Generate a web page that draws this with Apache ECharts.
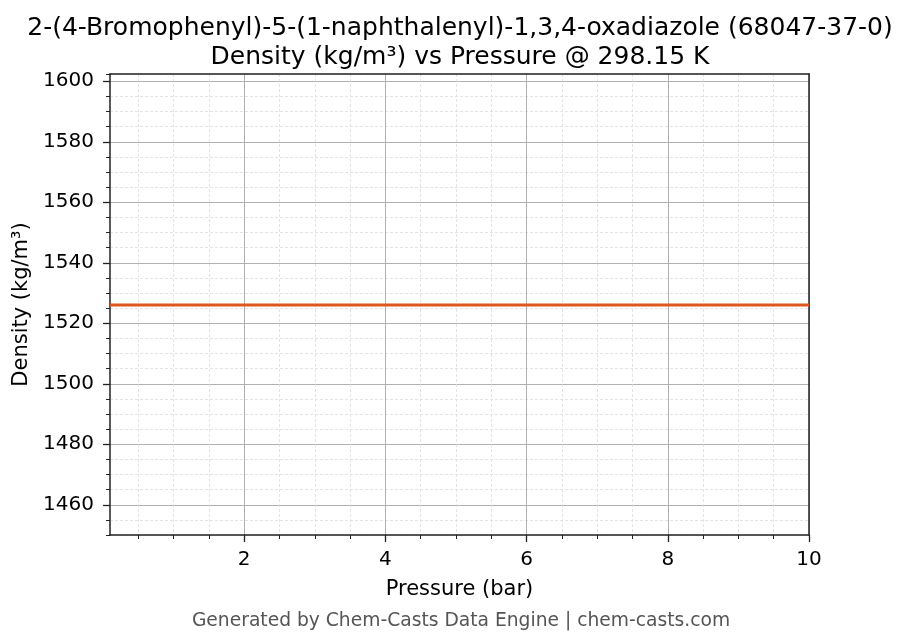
<!DOCTYPE html>
<html>
<head>
<meta charset="utf-8">
<script src="https://cdn.jsdelivr.net/npm/echarts@6/dist/echarts.min.js"></script>
<style>html,body{margin:0;padding:0;background:#fff}#c{width:908px;height:644px}</style>
</head>
<body>
<div id="c"></div>
<script>
// ---- data ----
const titleLine1 = '2-(4-Bromophenyl)-5-(1-naphthalenyl)-1,3,4-oxadiazole (68047-37-0)';
const titleLine2 = 'Density (kg/m³) vs Pressure @ 298.15 K';
const footerText = 'Generated by Chem-Casts Data Engine | chem-casts.com';
const xAxisName = 'Pressure (bar)';
const yAxisName = 'Density (kg/m³)';
const pressure = [0.1, 1, 2, 3, 4, 5, 6, 7, 8, 9, 10];
const density = [1526, 1526, 1526, 1526, 1526, 1526, 1526, 1526, 1526, 1526, 1526];
const xMajorTicks = [2, 4, 6, 8, 10];
const xMinorTicks = [0.5, 1, 1.5, 2.5, 3, 3.5, 4.5, 5, 5.5, 6.5, 7, 7.5, 8.5, 9, 9.5];
const yMajorTicks = [1460, 1480, 1500, 1520, 1540, 1560, 1580, 1600];
const xRange = [0.1, 10];
const yRange = [1450, 1602.4];

const FONT = 'DejaVu Sans';
const AXC = '#222';

const chart = echarts.init(document.getElementById('c'), null, {renderer: 'canvas'});

const xBase = {type: 'value', min: xRange[0], max: xRange[1], gridIndex: 0};
const yBase = {type: 'value', min: yRange[0], max: yRange[1], gridIndex: 0};
const plain = v => String(v);
const titleCenterX = 455;

const option = {
  backgroundColor: '#fff',
  animation: false,
  title: [
    {
      text: titleLine1 + '\n' + titleLine2,
      left: titleCenterX, top: 9, textAlign: 'center',
      textStyle: {fontFamily: FONT, fontSize: 25, fontWeight: 'normal', color: '#000', lineHeight: 29}
    },
    {
      text: footerText,
      left: titleCenterX + 1, top: 607, textAlign: 'center',
      textStyle: {fontFamily: FONT, fontSize: 18.7, fontWeight: 'normal', color: '#555'}
    }
  ],
  grid: {left: 110, right: 99, top: 74, bottom: 109, containLabel: false},
  xAxis: [
    Object.assign({}, xBase, {
      position: 'bottom',
      axisLine: {show: false},
      axisTick: {show: true, inside: false, length: 4, customValues: xMinorTicks, lineStyle: {color: AXC, width: 1}},
      axisLabel: {show: false, customValues: xMinorTicks},
      splitLine: {show: true, lineStyle: {color: '#dddddd', width: 0.8, type: [3, 2]}}
    }),
    Object.assign({}, xBase, {
      position: 'bottom',
      name: xAxisName, nameLocation: 'middle', nameGap: 44,
      nameTextStyle: {fontFamily: FONT, fontSize: 21, color: '#000'},
      axisLine: {show: true, onZero: false, lineStyle: {color: AXC, width: 1.5}},
      axisTick: {show: true, inside: false, length: 7, customValues: xMajorTicks, lineStyle: {color: AXC, width: 1.3}},
      axisLabel: {show: true, customValues: xMajorTicks, margin: 15, fontFamily: FONT, fontSize: 20, color: '#000', formatter: plain},
      splitLine: {show: true, lineStyle: {color: '#b0b0b0', width: 1}}
    }),
    Object.assign({}, xBase, {
      position: 'top',
      axisLine: {show: true, onZero: false, lineStyle: {color: AXC, width: 1.5}},
      axisTick: {show: false}, axisLabel: {show: false}, splitLine: {show: false}
    })
  ],
  yAxis: [
    Object.assign({}, yBase, {
      position: 'left', interval: 5,
      axisLine: {show: false},
      axisTick: {show: true, inside: false, length: 4, lineStyle: {color: AXC, width: 1}},
      axisLabel: {show: false},
      splitLine: {show: true, lineStyle: {color: '#dddddd', width: 0.8, type: [3, 2]}}
    }),
    Object.assign({}, yBase, {
      position: 'left',
      name: yAxisName, nameLocation: 'middle', nameGap: 77,
      nameTextStyle: {fontFamily: FONT, fontSize: 21, color: '#000'},
      axisLine: {show: true, onZero: false, lineStyle: {color: AXC, width: 1.5}},
      axisTick: {show: true, inside: false, length: 7, customValues: yMajorTicks, lineStyle: {color: AXC, width: 1.3}},
      axisLabel: {show: true, customValues: yMajorTicks, margin: 16, fontFamily: FONT, fontSize: 20, color: '#000', formatter: plain},
      splitLine: {show: true, lineStyle: {color: '#b0b0b0', width: 1}}
    }),
    Object.assign({}, yBase, {
      position: 'right',
      axisLine: {show: true, onZero: false, lineStyle: {color: AXC, width: 1.5}},
      axisTick: {show: false}, axisLabel: {show: false}, splitLine: {show: false}
    })
  ],
  series: [
    {
      type: 'line',
      xAxisIndex: 1, yAxisIndex: 1,
      data: pressure.map((p, i) => [p, density[i]]),
      showSymbol: false, symbol: 'none',
      lineStyle: {color: '#e0561f', width: 3},
      z: 5
    }
  ]
};
chart.setOption(option);
</script>
</body>
</html>
